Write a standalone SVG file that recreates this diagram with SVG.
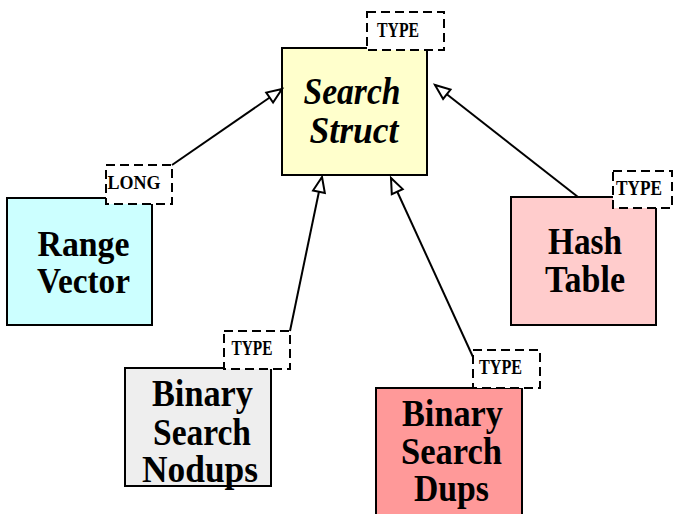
<svg xmlns="http://www.w3.org/2000/svg" width="676" height="514" viewBox="0 0 676 514">
<defs>
<style>
.box{stroke:#000;stroke-width:2}
.tag{fill:#fff;stroke:#000;stroke-width:2;stroke-dasharray:9 5}
.lbl{font-family:"Liberation Serif","Times New Roman",serif;font-weight:bold;font-size:37px;text-anchor:middle;fill:#000}
.it{font-style:italic;font-size:38px}
.sm{font-size:35px}
.tt{font-family:"Liberation Serif","Times New Roman",serif;font-weight:bold;font-size:19px;text-anchor:middle;fill:#000}
.type{font-size:20px}
.edge{stroke:#000;stroke-width:2;fill:none;marker-end:url(#tri)}
</style>
<marker id="tri" markerUnits="userSpaceOnUse" markerWidth="20" markerHeight="16" viewBox="-17 -8 20 16" refX="0" refY="0" orient="auto">
<path d="M0,0 L-15,-6 L-15,6 Z" fill="#fff" stroke="#000" stroke-width="2" stroke-linejoin="miter"/>
</marker>
</defs>
<rect width="676" height="514" fill="#fff"/>

<g id="search-struct">
<rect class="box" x="282" y="48" width="145" height="127" fill="#ffffcc"/>
<text class="lbl it" x="352" y="104" textLength="97" lengthAdjust="spacingAndGlyphs">Search</text>
<text class="lbl it" x="354" y="143" textLength="89" lengthAdjust="spacingAndGlyphs">Struct</text>
<rect class="tag" x="367" y="12" width="77" height="38"/>
<text class="tt type" x="398" y="37" textLength="42" lengthAdjust="spacingAndGlyphs">TYPE</text>
</g>

<g id="range-vector">
<rect class="box" x="7" y="198" width="145" height="127" fill="#ccffff"/>
<text class="lbl sm" x="83.5" y="256" textLength="92" lengthAdjust="spacingAndGlyphs">Range</text>
<text class="lbl sm" x="83.5" y="293" textLength="93" lengthAdjust="spacingAndGlyphs">Vector</text>
<rect class="tag" x="106" y="165" width="66" height="39"/>
<text class="tt" x="134" y="189" textLength="53" lengthAdjust="spacingAndGlyphs">LONG</text>
</g>

<g id="hash-table">
<rect class="box" x="511" y="197" width="145" height="128" fill="#ffcccc"/>
<text class="lbl" x="585" y="254" textLength="74" lengthAdjust="spacingAndGlyphs">Hash</text>
<text class="lbl" x="585" y="292" textLength="80" lengthAdjust="spacingAndGlyphs">Table</text>
<rect class="tag" x="613" y="171" width="59" height="37"/>
<text class="tt type" x="639" y="195" textLength="46" lengthAdjust="spacingAndGlyphs">TYPE</text>
</g>

<g id="binary-search-nodups">
<rect class="box" x="125" y="368" width="146" height="118" fill="#eeeeee"/>
<text class="lbl" x="202.5" y="406" textLength="101" lengthAdjust="spacingAndGlyphs">Binary</text>
<text class="lbl" x="202" y="445" textLength="98" lengthAdjust="spacingAndGlyphs">Search</text>
<text class="lbl" x="200" y="482" textLength="116" lengthAdjust="spacingAndGlyphs">Nodups</text>
<rect class="tag" x="224" y="331" width="66" height="38"/>
<text class="tt type" x="252" y="355" textLength="41" lengthAdjust="spacingAndGlyphs">TYPE</text>
</g>

<g id="binary-search-dups">
<rect class="box" x="376" y="388" width="146" height="132" fill="#ff9999"/>
<text class="lbl" x="452.5" y="426" textLength="101" lengthAdjust="spacingAndGlyphs">Binary</text>
<text class="lbl" x="451.5" y="464" textLength="101" lengthAdjust="spacingAndGlyphs">Search</text>
<text class="lbl" x="451.5" y="501" textLength="75" lengthAdjust="spacingAndGlyphs">Dups</text>
<rect class="tag" x="473" y="350" width="67" height="38"/>
<text class="tt type" x="500.5" y="374" textLength="43" lengthAdjust="spacingAndGlyphs">TYPE</text>
</g>

<g id="connectors">
<line class="edge" x1="172" y1="165" x2="282" y2="89"/>
<line class="edge" x1="290" y1="331" x2="322" y2="177"/>
<line class="edge" x1="473" y1="357" x2="391" y2="178"/>
<line class="edge" x1="578" y1="197" x2="435" y2="85"/>
</g>
</svg>
